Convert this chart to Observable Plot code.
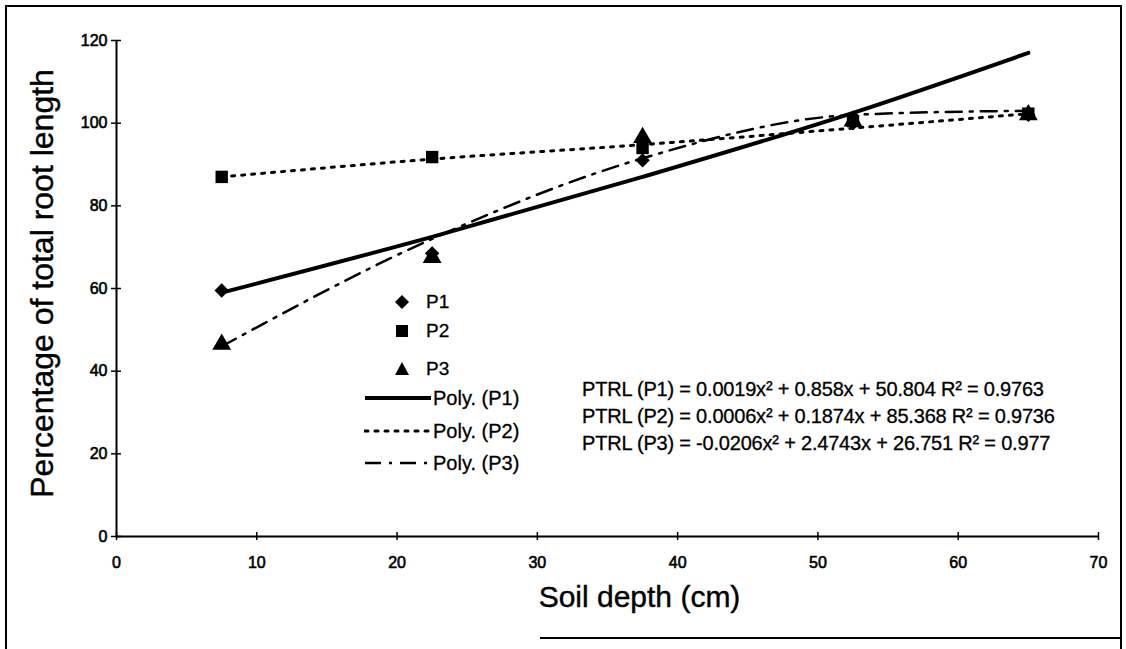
<!DOCTYPE html>
<html><head><meta charset="utf-8">
<script src="https://cdn.jsdelivr.net/npm/d3@7"></script>
<script src="https://cdn.jsdelivr.net/npm/@observablehq/plot@0.6"></script>
<style>
body{margin:0;background:#fff;font-family:"Liberation Sans",Arial,sans-serif;color:#000;}
#wrap{position:relative;width:1126px;height:649px;overflow:hidden;background:#fff;}
#chart{position:absolute;left:0;top:0;}
#chart svg text{stroke:#000;stroke-width:0.4px;}
#chart svg g[aria-label$="tick label"] text{stroke-width:0.6px;}
#border{position:absolute;left:5px;top:5px;width:1113px;height:660px;border-left:2px solid #000;border-top:2px solid #000;border-right:2px solid #000;}
#bottomline{position:absolute;left:540px;top:637px;width:582px;height:2px;background:#000;}
.leg{position:absolute;height:22px;display:flex;align-items:center;white-space:nowrap;-webkit-text-stroke:0.3px #000;}
.leg svg{display:block;}
.eq{position:absolute;left:582px;font-size:20px;white-space:nowrap;letter-spacing:-0.2px;-webkit-text-stroke:0.3px #000;}
</style></head><body>
<div id="wrap"><div id="border"></div><div id="bottomline"></div><div id="chart"></div><div id="legend"></div><div id="eqs"></div></div>
<script>
// ---- data ----
const depths = [7.5, 22.5, 37.5, 52.5, 65];
const p1 = [59.5, 68.5, 91, 100, 102];
const p2 = [87, 91.8, 94, 100.5, 102.3];
const p3 = [46.5, 67.5, 96.5, 100.5, 102];
const trendP1 = [59, 72.5, 87, 102.5, 117];
const trendP2 = [87, 91.3, 94.8, 98.8, 102.3];
const trendP3 = [46, 72, 91.5, 102, 103];
const xTicks = [0, 10, 20, 30, 40, 50, 60, 70];
const yTicks = [0, 20, 40, 60, 80, 100, 120];
const seriesNames = ["P1", "P2", "P3"];
const trendNames = ["Poly. (P1)", "Poly. (P2)", "Poly. (P3)"];
const equations = [
  "PTRL (P1) = 0.0019x² + 0.858x + 50.804 R² = 0.9763",
  "PTRL (P2) = 0.0006x² + 0.1874x + 85.368 R² = 0.9736",
  "PTRL (P3) = -0.0206x² + 2.4743x + 26.751 R² = 0.977"
];
const xTitle = "Soil depth (cm)";
const yTitle = "Percentage of total root length";

const rows = (ys) => depths.map((d, i) => ({x: d, y: ys[i]}));
const FONT = '"Liberation Sans", Arial, sans-serif';

const plot = Plot.plot({
  width: 1126, height: 649,
  marginLeft: 116, marginRight: 28, marginTop: 40, marginBottom: 113,
  style: {fontFamily: FONT, fontSize: "16px", color: "#000", background: "transparent", overflow: "visible"},
  x: {domain: [0, 70], ticks: xTicks, label: null},
  y: {domain: [0, 120], ticks: yTicks, label: null},
  marks: [
    Plot.ruleX([0], {stroke: "#000", strokeWidth: 2}),
    Plot.ruleY([0], {stroke: "#000", strokeWidth: 2}),
    Plot.axisY({ticks: yTicks, tickSize: 5, tickPadding: 4, strokeWidth: 1.5, fontSize: 16, label: null}),
    Plot.axisY({ticks: yTicks, tickSize: 5, dx: 5, text: null, strokeWidth: 1.5, label: null}),
    Plot.axisX({ticks: xTicks, tickSize: 4, tickPadding: 16, strokeWidth: 1.5, fontSize: 16, label: null}),
    Plot.axisX({ticks: xTicks, tickSize: 4, dy: -4, text: null, strokeWidth: 1.5, label: null}),
    Plot.text([yTitle], {frameAnchor: "left", textAnchor: "middle", text: d => d, rotate: -90, dx: -74, dy: -5, fontSize: 32, fill: "#000"}),
    Plot.text([xTitle], {frameAnchor: "bottom", textAnchor: "middle", text: d => d, dx: 32, dy: 70, fontSize: 30, fill: "#000"}),
    Plot.line(rows(trendP2), {x: "x", y: "y", curve: "monotone-x", stroke: "#000", strokeWidth: 3, strokeDasharray: "3,7", strokeLinecap: "round"}),
    Plot.line(rows(trendP3), {x: "x", y: "y", curve: "monotone-x", stroke: "#000", strokeWidth: 2.5, strokeDasharray: "16,8,3,8"}),
    Plot.line(rows(trendP1), {x: "x", y: "y", curve: "monotone-x", stroke: "#000", strokeWidth: 4}),
    Plot.dot(rows(p1), {x: "x", y: "y", symbol: "diamond2", r: 6.5, fill: "#000", stroke: null}),
    Plot.dot(rows(p2), {x: "x", y: "y", symbol: "square", r: 7, fill: "#000", stroke: null}),
    Plot.dot(rows(p3), {x: "x", y: "y", symbol: "triangle", r: 7, fill: "#000", stroke: null})
  ]
});
document.getElementById("chart").appendChild(plot);

// ---- legend (HTML) ----
const legend = document.getElementById("legend");
const symbolPaths = {
  P1: '<path d="M9,2 L16,9 L9,16 L2,9 Z" fill="#000"/>',
  P2: '<rect x="3" y="3" width="12" height="12" fill="#000"/>',
  P3: '<path d="M9,2 L16,15 L2,15 Z" fill="#000"/>'
};
const legendRows = [302, 331, 369, 398, 431, 463];
seriesNames.forEach((n, i) => {
  const d = document.createElement("div");
  d.className = "leg";
  d.style.left = "393px"; d.style.top = (legendRows[i] - 11) + "px";
  d.style.fontSize = "19px";
  d.innerHTML = `<svg width="18" height="18">${symbolPaths[n]}</svg><span style="margin-left:15px">${n}</span>`;
  legend.appendChild(d);
});
const dashes = ["", "3,7", "16,8,3,8"];
const widths = [4, 3, 2.5];
trendNames.forEach((n, i) => {
  const d = document.createElement("div");
  d.className = "leg";
  d.style.left = "364px"; d.style.top = (legendRows[i + 3] - 11) + "px";
  d.style.fontSize = "20px";
  d.innerHTML = `<svg width="68" height="18"><line x1="1" y1="9" x2="67" y2="9" stroke="#000" stroke-width="${widths[i]}" stroke-dasharray="${dashes[i]}" stroke-linecap="${i===1?'round':'butt'}"/></svg><span style="margin-left:1px">${n}</span>`;
  legend.appendChild(d);
});

// ---- equations (HTML) ----
const eqTops = [390, 417, 444];
const eqs = document.getElementById("eqs");
equations.forEach((t, i) => {
  const d = document.createElement("div");
  d.className = "eq";
  d.style.top = (eqTops[i] - 12) + "px";
  d.textContent = t;
  eqs.appendChild(d);
});
</script>
</body></html>
